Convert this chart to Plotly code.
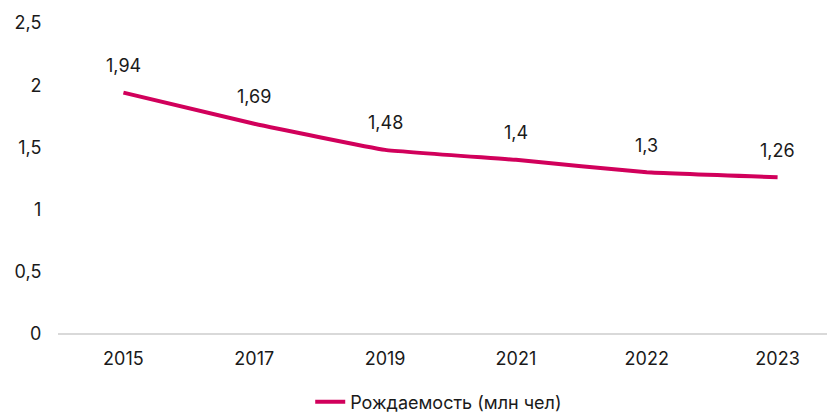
import plotly.graph_objects as go

years = ["2015", "2017", "2019", "2021", "2022", "2023"]
births = [1.94, 1.69, 1.48, 1.4, 1.3, 1.26]
labels = ["1,94", "1,69", "1,48", "1,4", "1,3", "1,26"]
series_name = "Рождаемость (млн чел)"

color = "#D1005B"
font_family = "Inter, Lato, sans-serif"
fs = 18

fig = go.Figure()
fig.add_trace(go.Scatter(
    x=years, y=births, mode="lines", name=series_name,
    line=dict(color=color, width=4, shape="spline", smoothing=0.3),
    hoverinfo="skip",
))
for i, (y, t) in enumerate(zip(births, labels)):
    fig.add_annotation(x=i, y=y, text=t, showarrow=False, yshift=27,
                       font=dict(size=fs, color="#1a1a1a", family=font_family))

# page body has an 8px default margin; margins below compensate for it
fig.update_layout(
    width=835, height=413,
    margin=dict(l=50, r=0, t=15, b=87, autoexpand=False),
    paper_bgcolor="white", plot_bgcolor="white",
    separators=", ",
    font=dict(family=font_family, size=fs, color="#1a1a1a"),
    showlegend=True,
    legend=dict(orientation="h", x=0.485, xanchor="center", yref="container",
                y=0.046, yanchor="middle", font=dict(size=fs)),
    xaxis=dict(type="category", range=[-0.5, len(years) - 0.5], showgrid=False,
               showline=False, zeroline=False, ticks="outside", ticklen=8,
               tickcolor="rgba(0,0,0,0)", tickfont=dict(size=fs), automargin=False),
    yaxis=dict(range=[0, 2.5], dtick=0.5, showgrid=False, zeroline=True,
               zerolinecolor="#D9D9D9", zerolinewidth=1.5, showline=False,
               ticks="outside", ticklen=12, tickcolor="rgba(0,0,0,0)",
               tickfont=dict(size=fs), tickformat=",.1~f", automargin=False),
)
fig.write_html("out.html")
